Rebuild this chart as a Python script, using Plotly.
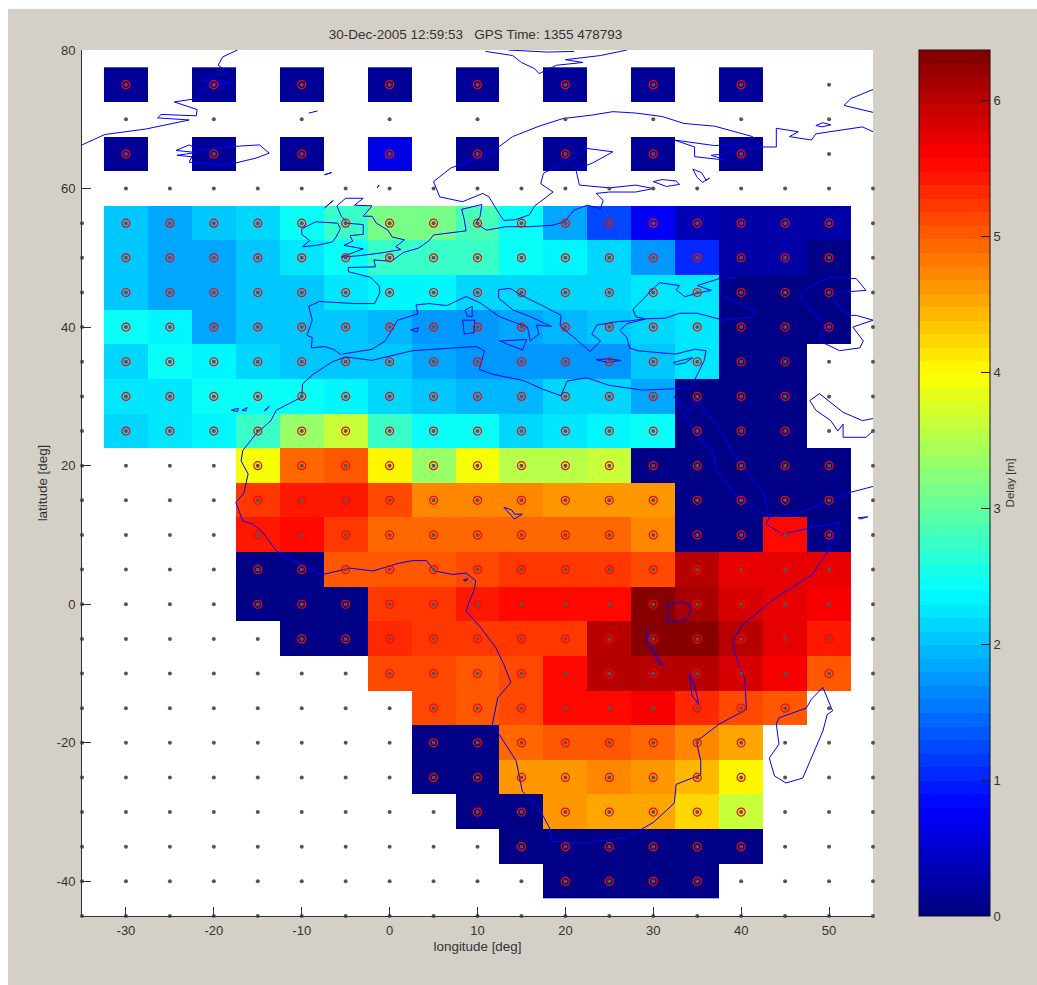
import plotly.graph_objects as go

N = None
longitudes = [-30, -25, -20, -15, -10, -5, 0, 5, 10, 15, 20, 25, 30, 35, 40, 45, 50]
latitudes = [75, 70, 65, 60, 55, 50, 45, 40, 35, 30, 25, 20, 15, 10, 5, 0, -5, -10, -15, -20, -25, -30, -35, -40]
delay_rows = [
    [.15, N, .15, N, .15, N, .15, N, .15, N, .15, N, .15, N, .15, N, N],
    [N] * 17,
    [.15, N, .15, N, .15, N, .65, N, .15, N, .15, N, .15, N, .15, N, N],
    [N] * 17,
    [2.05, 1.85, 2.05, 2.1, 2.4, 2.75, 3.15, 3.15, 2.8, 2.4, 1.85, 1.2, .75, .35, .2, .2, .2],
    [2.05, 1.85, 1.85, 2.05, 2.2, 2.45, 2.7, 2.7, 2.7, 2.45, 2.3, 2.15, 1.7, 1.05, .2, .2, .03],
    [2.05, 1.85, 1.85, 2.05, 2.05, 2.25, 2.3, 2.3, 2.1, 2.1, 2.1, 2.1, 2.2, 2.2, .05, .05, .05],
    [2.4, 2.3, 1.85, 2.05, 2.05, 2.05, 1.95, 1.7, 1.75, 1.85, 1.9, 2.05, 2.15, 2.2, .05, .05, .05],
    [2.15, 2.4, 2.3, 2.1, 2.05, 2.05, 2.05, 1.85, 1.7, 1.75, 1.75, 1.75, 2.0, 2.2, .05, .05, N],
    [2.25, 2.25, 2.4, 2.4, 2.4, 2.3, 2.15, 2.05, 1.95, 1.95, 2.15, 2.15, 1.85, .05, .05, .05, N],
    [2.1, 2.25, 2.3, 2.75, 3.3, 3.6, 2.75, 2.45, 2.4, 2.15, 2.25, 2.3, 2.4, .05, .05, .05, N],
    [N, N, N, 3.95, 4.95, 5.05, 4.05, 3.3, 3.9, 3.55, 3.55, 3.6, .05, .05, .05, .05, .05],
    [N, N, N, 5.25, 5.4, 5.4, 5.1, 4.75, 4.75, 4.7, 4.65, 4.65, 4.65, .05, .05, .05, .05],
    [N, N, N, 5.4, 5.55, 5.25, 4.95, 4.95, 4.95, 4.95, 4.95, 4.95, 4.7, .05, .05, 5.55, .05],
    [N, N, N, .05, .05, 5.05, 5.05, 5.05, 5.15, 5.2, 5.2, 5.2, 5.1, 6.05, 5.7, 5.7, 5.7],
    [N, N, N, .05, .05, .05, 5.25, 5.25, 5.4, 5.5, 5.5, 5.55, 6.35, 6.15, 5.85, 5.7, 5.6],
    [N, N, N, N, .05, .05, 5.3, 5.25, 5.25, 5.25, 5.25, 6.0, 6.3, 6.3, 6.0, 5.7, 5.45],
    [N, N, N, N, N, N, 5.1, 5.1, 5.0, 5.1, 5.55, 6.05, 6.05, 6.05, 5.8, 5.6, 5.05],
    [N, N, N, N, N, N, N, 5.1, 5.0, 5.1, 5.55, 5.55, 5.65, 5.3, 5.1, 5.05, N],
    [N, N, N, N, N, N, N, .05, .05, 4.9, 5.0, 5.0, 4.9, 4.7, 4.55, N, N],
    [N, N, N, N, N, N, N, .05, .05, 4.6, 4.6, 4.75, 4.65, 4.45, 4.0, N, N],
    [N, N, N, N, N, N, N, N, .05, .05, 4.65, 4.55, 4.55, 4.2, 3.6, N, N],
    [N, N, N, N, N, N, N, N, N, .05, .05, .05, .05, .05, .05, N, N],
    [N, N, N, N, N, N, N, N, N, N, .05, .05, .05, .05, N, N, N],
]

# Coastlines in (lon, lat)
greenland = [(-35, 66.3), (-32.4, 67.8), (-27.7, 68.6), (-22.8, 69.9), (-26.4, 70.2), (-26, 70.7), (-22, 70.5), (-21.9, 71.4), (-24.5, 72.5), (-22.8, 72.8), (-21.9, 73), (-21.5, 74), (-20.7, 74.6), (-18, 75.3), (-21.3, 75.6), (-18.4, 76.8), (-19.5, 77.8), (-19, 79), (-17.3, 80)]
iceland = [(-24.3, 65.5), (-22.8, 66.3), (-21.5, 65.5), (-20.1, 65.8), (-17.5, 66.1), (-14.8, 66.3), (-13.7, 65.1), (-15.2, 64.4), (-17.5, 63.7), (-19, 63.4), (-22.8, 63.8), (-22.5, 64.6), (-24.2, 64.8), (-22, 65.2), (-24.3, 65.5)]
jan_mayen = [(-9.2, 70.9), (-8.2, 71.2)]
faroes = [(-7.4, 62), (-6.6, 62.3), (-7.4, 62)]
shetland = [(-1.4, 60.1), (-1.2, 60.5), (-1.4, 60.1)]
ireland = [(-10, 54.2), (-8.4, 55.2), (-5.9, 55), (-5.6, 54.2), (-6.1, 53), (-6.5, 52.3), (-8.3, 51.8), (-9.9, 51.6), (-9.1, 52.5), (-10, 53.4), (-10, 54.2)]
great_britain = [(-5.5, 50.1), (-3.5, 50.3), (-1, 50.7), (1.3, 51.2), (0.7, 51.6), (1.7, 52.6), (0.3, 53), (-0.2, 54), (-1.5, 55), (-2, 56), (-3, 56), (-2, 57.5), (-4, 57.6), (-3, 58.6), (-5, 58.6), (-6, 57.5), (-5.5, 56), (-4.8, 55), (-3, 54.8), (-3, 53.4), (-4.5, 53.2), (-4.2, 52.4), (-5.2, 51.8), (-3, 51.3), (-5.5, 50.1)]
hebrides = [(-7.4, 57.2), (-6.4, 58.3), (-7.4, 57.2)]
europe = [(-5.5, 36), (-6.4, 36.8), (-7.4, 37.2), (-8.9, 37), (-8.8, 38.5), (-9.4, 38.8), (-8.8, 41), (-9.2, 43), (-8, 43.7), (-4, 43.4), (-1.7, 43.4), (-1.1, 45), (-1.2, 46), (-2.2, 47.2), (-4.7, 48), (-4.7, 48.6), (-1.6, 48.7), (-1.8, 49.7), (0.2, 49.5), (1.6, 50.8), (3.3, 51.4), (4.5, 52.5), (5, 53.3), (7, 53.6), (8.7, 53.9), (8.5, 55.5), (8.2, 57), (10.5, 57.7), (10.3, 56), (9.8, 55), (11, 54), (13.3, 54.5), (15.9, 54.5), (18.5, 54.7), (19.9, 55.2), (21, 56.9), (22.5, 57.6), (24, 57.1), (24.3, 58.3), (23.5, 59.3), (25, 59.5), (28, 59.5), (30, 60), (28, 60.5), (25, 60.1), (21.6, 60.5), (21.2, 62.7), (23.1, 63.7), (25.4, 65.3), (22.4, 65.8), (21.2, 64.6), (17.5, 62.2), (17.2, 60.7), (18.6, 59.5), (16.5, 57.5), (15.9, 56.2), (14.3, 55.5), (13, 55.4), (12.5, 56.3), (11.3, 58.8), (10.6, 59.3), (8.3, 58.1), (5.7, 58.8), (5, 61), (7, 63), (11, 64.7), (14, 67.5), (17, 69), (19.7, 70.1), (23, 70.6), (25.4, 71.1), (28, 70.9), (31, 70.4), (33.5, 69.4), (37, 69), (41.3, 67.5), (40.5, 66.5), (37, 66.2), (32.4, 67), (34.7, 66), (34.7, 64.6), (38.3, 64.1), (36.6, 64.8), (38, 65), (41.1, 66), (44, 66), (44, 68.7), (46.5, 68.2), (45.5, 67.5), (48, 67), (48.5, 67.9), (53.8, 68.9), (55, 68.2)]
novaya_zemlya = [(55, 74.3), (52.5, 73), (51.7, 72), (53.5, 71.4), (55, 71)]
kolguev = [(48.5, 69.1), (49.3, 69.5), (50.2, 69.2), (49.2, 68.9), (48.5, 69.1)]
svalbard = [(10.9, 79.8), (14, 79.2), (15, 78.2), (16.5, 77.3), (17, 76.6), (19, 77.8), (22, 78.2), (20, 78.6), (24, 79.2), (27, 80)]
svalbard_top = [(13.5, 80), (18, 79.7), (21, 79.8)]
ladoga = [(30, 61), (31.5, 60.3), (33, 60.6), (32.6, 61.1), (31, 61.3), (30, 61)]
onega = [(34.5, 62.8), (35.5, 62.3), (36, 61.2), (36.4, 61.5), (35.6, 60.9), (35, 61.6), (34.5, 62.8)]
mediterranean_north = [(-5.4, 36.1), (-2, 36.8), (-0.5, 38), (0, 39), (0.9, 41), (3.2, 41.9), (3, 43.2), (4.5, 43.4), (6.5, 43.1), (8.7, 44.4), (10.3, 43.5), (12.5, 41.5), (15.7, 40), (16, 38), (17, 39), (16.7, 40.3), (18.4, 40.1), (16, 41.5), (14, 42.5), (12.4, 44.2), (12.4, 45.4), (13.7, 45.6), (15, 44.6), (18, 42.7), (19.5, 41.7), (19.4, 40.2), (21.2, 38.3), (22.8, 36.5), (24, 38), (23, 39), (23.6, 40.3), (26, 40.8), (27.4, 40.9), (29, 41.2), (28, 41.5), (27.7, 42.6), (28.6, 43.7), (29.7, 45.2), (30.7, 46.4), (33, 46), (32.6, 45.4), (33.6, 44.4), (35.4, 45), (36.6, 45.3), (35, 46), (37.5, 47), (39.3, 47.2), (37.5, 45.5), (38, 44.4), (41.5, 42.4), (41.5, 41.5), (38, 41), (35, 42), (33, 42), (31.4, 41.3), (29.2, 41.2), (27, 40.5), (26.2, 39.5), (27, 38.5), (27.3, 37), (28.2, 36.6), (30.5, 36.3), (32.5, 36.1), (34.7, 36.8), (36, 36.6), (35.8, 35.2), (35, 33), (34.3, 31.3)]
africa = [(34.3, 31.3), (32.4, 31.1), (28.8, 30.9), (25, 31.6), (22.4, 32.7), (20.2, 32.2), (19.5, 30.1), (17.5, 31), (15.2, 32.3), (11.7, 33.2), (10.2, 33.9), (10.8, 36.6), (9.8, 37.2), (6, 36.9), (2.6, 36.6), (-2, 35.2), (-5, 35.7), (-6.5, 35), (-8.7, 33.2), (-9.9, 31.8), (-10, 29.9), (-12.9, 28), (-13.5, 26.5), (-15.2, 24.6), (-16.7, 22.2), (-16.9, 20.7), (-16.1, 18.8), (-16.6, 16), (-17.5, 14.7), (-16.7, 12), (-15.6, 11.6), (-14.5, 10.5), (-12.9, 7.7), (-10.5, 6), (-7.6, 4.3), (-4.5, 5.2), (-1.9, 4.8), (1, 5.9), (2.6, 6.3), (4.2, 6.3), (5.1, 4.8), (7.2, 4.3), (8.7, 4.5), (9.8, 3.4), (9.6, 2), (9.1, .5), (8.7, -1), (10.2, -3.1), (12.1, -6.3), (13, -8.7), (13.8, -11.3), (12.3, -13.5), (11.7, -17.3), (14.4, -22.6), (15.1, -27), (16.8, -29), (18.2, -32.3), (18.4, -34.2), (21.6, -34.5), (27, -33.7), (30, -31.5), (32.4, -28.7), (32.6, -26), (35.4, -24.6), (35.4, -22.6), (34.9, -19.8), (37.5, -17.3), (40.6, -15.2), (40.4, -10.6), (39.5, -8), (39, -5.3), (40.2, -2.9), (44, 1), (48.1, 4.3), (49.9, 7.7), (51.2, 11.8), (48.1, 11.1), (44.7, 10.1), (42.8, 11.6), (43.2, 12.5), (39.4, 15.7), (37.1, 19.5), (36.9, 21.9), (35.4, 23.6), (33.7, 27), (32.4, 30), (34.2, 27.8), (35, 29.5)]
arabia = [(35, 29.5), (38.3, 23.8), (39, 21.7), (42.6, 16), (43, 13), (44.4, 12.7), (46.6, 13.2), (50, 15), (52.3, 16.1), (55, 17)]
persian_gulf = [(55, 25), (54.2, 24.1), (51.6, 24.1), (51.6, 26), (51, 25), (50.2, 26.5), (48.5, 28), (47.8, 29.4), (48.9, 30.4), (51.6, 27.7), (53.8, 26.5), (55, 26.8)]
caspian = [(46.6, 44.6), (48, 46), (50, 47.2), (53.1, 47), (54.2, 45.3), (51, 45), (50.4, 44.3), (51, 43), (52.5, 41.7), (53.1, 41.7), (55, 41), (52.7, 40), (53.9, 38), (53.5, 37), (51.2, 36.6), (48.9, 38), (49.5, 40.3), (47.5, 43), (46.6, 44.6)]
sicily = [(12.5, 38), (15.6, 38.2), (15.1, 36.7), (12.5, 38)]
sardinia = [(8.3, 41), (9.7, 41), (9.6, 39.2), (8.5, 39), (8.3, 41)]
corsica = [(8.6, 42.5), (9.4, 43), (9.4, 41.5), (8.8, 41.6), (8.6, 42.5)]
balearic = [(2.4, 39.6), (3.3, 39.9), (3.1, 39.3), (2.4, 39.6)]
crete = [(23.5, 35.3), (24.8, 35.4), (26.3, 35.2), (24.8, 34.9), (23.5, 35.3)]
cyprus = [(32.3, 34.9), (34.5, 35.6), (33.6, 34.8), (32.5, 34.6), (32.3, 34.9)]
canary = [(-18, 28), (-17.2, 28.3), (-17.3, 27.8), (-18, 28)]
canary_2 = [(-16.8, 28), (-16.2, 28.4), (-16.4, 27.9), (-16.8, 28)]
canary_3 = [(-14.3, 27.9), (-13.7, 28.6), (-14, 28.1), (-14.3, 27.9)]
bioko = [(8.4, 3.5), (8.9, 3.7), (8.7, 3.3), (8.4, 3.5)]
socotra = [(53.3, 12.5), (54.4, 12.6), (53.5, 12.3), (53.3, 12.5)]
lake_chad = [(13, 14), (14.2, 12.3), (15.1, 13), (14.2, 13), (13.9, 13.6), (13, 14)]
lake_victoria = [(31.6, 0), (33, .4), (34.1, 0), (34.3, -1), (33.7, -2.2), (32.5, -2.4), (31.6, -2.7), (31.7, -1), (31.6, 0)]
lake_tanganyika = [(29.2, -3.85), (29.4, -6), (30.3, -7.2), (31.1, -8.9), (30.6, -8.5), (29.9, -6.5), (29.2, -3.85)]
lake_malawi = [(34.1, -9.9), (34.7, -11.8), (35.2, -14.5), (34.4, -13.2), (34.1, -9.9)]
madagascar = [(49.3, -12), (50.4, -15.4), (49.8, -15.9), (49.3, -18.3), (47, -25.1), (45.1, -25.8), (43.8, -24.8), (43.2, -22.2), (44.3, -20.2), (44, -17.3), (44.3, -16.4), (47.4, -15), (48, -13.7), (49.3, -12)]

coastlines = [greenland, iceland, jan_mayen, faroes, shetland, ireland, great_britain, hebrides, europe,
              novaya_zemlya, kolguev, svalbard, svalbard_top, ladoga, onega, mediterranean_north, africa,
              arabia, persian_gulf, caspian, sicily, sardinia, corsica, balearic, crete, cyprus, canary,
              canary_2, canary_3, bioko, socotra, lake_chad, lake_victoria, lake_tanganyika, lake_malawi,
              madagascar]

title_text = "30-Dec-2005 12:59:53   GPS Time: 1355 478793"
xtick_vals = [-30, -20, -10, 0, 10, 20, 30, 40, 50]
xtick_text = ["-30", "-20", "-10", "0", "10", "20", "30", "40", "50"]
ytick_vals = [-40, -20, 0, 20, 40, 60, 80]
ytick_text = ["-40", "-20", "0", "20", "40", "60", "80"]
cb_tick_vals = [0, 1, 2, 3, 4, 5, 6]
Z_MAX = 6.37
LEVELS = 64
CB_X = 1.0582


def jet(f):
    def ramp(x):
        return max(0.0, min(1.0, x))
    r = ramp(min(4 * f - 1.5, -4 * f + 4.5))
    g = ramp(min(4 * f - 0.5, -4 * f + 3.5))
    b = ramp(min(4 * f + 0.5, -4 * f + 2.5))
    return f"rgb({round(r * 255)},{round(g * 255)},{round(b * 255)})"


colorscale = []
for i in range(LEVELS):
    c = jet((i + 0.5) / LEVELS)
    colorscale += [[i / LEVELS, c], [(i + 1) / LEVELS, c]]

FONT = "Liberation Sans, Arial, sans-serif"
TXT = "#333333"
fig = go.Figure()
fig.add_trace(go.Heatmap(
    x=longitudes, y=latitudes, z=delay_rows, zmin=0, zmax=Z_MAX, colorscale=colorscale,
    hoverongaps=False,
    colorbar=dict(
        x=CB_X, xanchor="left", xpad=0, y=0, yanchor="bottom", ypad=0, len=1, lenmode="fraction",
        thickness=71, thicknessmode="pixels", outlinecolor="#111111", outlinewidth=1,
        tickvals=cb_tick_vals, ticks="inside", ticklen=9, tickcolor="#222222", tickwidth=1,
        tickfont=dict(family=FONT, size=13, color=TXT),
        title=dict(text="Delay [m]", side="right", font=dict(family=FONT, size=11.6, color=TXT)),
    ),
))

for line in coastlines:
    fig.add_trace(go.Scatter(
        x=[p[0] for p in line], y=[p[1] for p in line], mode="lines",
        line=dict(color="#0000ff", width=1), showlegend=False, hoverinfo="skip",
    ))

circle_x, circle_y = [], []
for r, lat in enumerate(latitudes):
    for c, lon in enumerate(longitudes):
        if delay_rows[r][c] is not None:
            circle_x.append(lon)
            circle_y.append(lat)
fig.add_trace(go.Scatter(
    x=circle_x, y=circle_y, mode="markers", cliponaxis=False, showlegend=False, hoverinfo="skip",
    marker=dict(symbol="circle-open", size=8, color="#ff0000", line=dict(width=1.2, color="#ff0000")),
))

grid_x, grid_y = [], []
for lat in range(-45, 56, 5):
    for lon in range(-35, 56, 5):
        grid_x.append(lon)
        grid_y.append(lat)
for lon in range(-30, 56, 5):
    grid_x.append(lon)
    grid_y.append(60)
for lat in (65, 70, 75):
    for lon in range(-30, 51, 10):
        grid_x.append(lon)
        grid_y.append(lat)
fig.add_trace(go.Scatter(
    x=grid_x, y=grid_y, mode="markers", cliponaxis=False, showlegend=False, hoverinfo="skip",
    marker=dict(symbol="circle", size=4, color="#555555"),
))

shapes = []
for v in cb_tick_vals[1:]:
    shapes.append(dict(type="line", xref="paper", yref="paper", x0=CB_X, x1=CB_X + 9 / 791,
                       y0=v / Z_MAX, y1=v / Z_MAX, line=dict(color="#222222", width=1)))

axis_common = dict(
    showgrid=False, zeroline=False, showline=True, linecolor="#333333", linewidth=1,
    ticks="inside", ticklen=9, tickcolor="#333333", tickwidth=1,
    tickfont=dict(family=FONT, size=13, color=TXT),
)
fig.update_layout(
    width=1029, height=976,
    margin=dict(l=74, t=41, r=164, b=69, pad=0),
    paper_bgcolor="#d4d0c8", plot_bgcolor="#ffffff",
    showlegend=False, shapes=shapes,
    title=dict(text=title_text, x=(475.5 - 8) / 1029, xanchor="center", y=1 - (25.5) / 976, yanchor="middle",
               font=dict(family=FONT, size=13.5, color=TXT)),
    xaxis=dict(range=[-35, 55], tickvals=xtick_vals, ticktext=xtick_text, ticklabelstandoff=2,
               title=dict(text="longitude [deg]", font=dict(family=FONT, size=13.4, color=TXT), standoff=5), **axis_common),
    yaxis=dict(range=[-45, 80], tickvals=ytick_vals, ticktext=ytick_text, ticklabelstandoff=3,
               title=dict(text="latitude [deg]", font=dict(family=FONT, size=13.4, color=TXT), standoff=5), **axis_common),
)

fig.write_html(
    "out.html",
    post_script="document.body.style.margin='9px 0 0 8px';document.body.style.overflow='hidden';document.documentElement.style.overflow='hidden';",
)
